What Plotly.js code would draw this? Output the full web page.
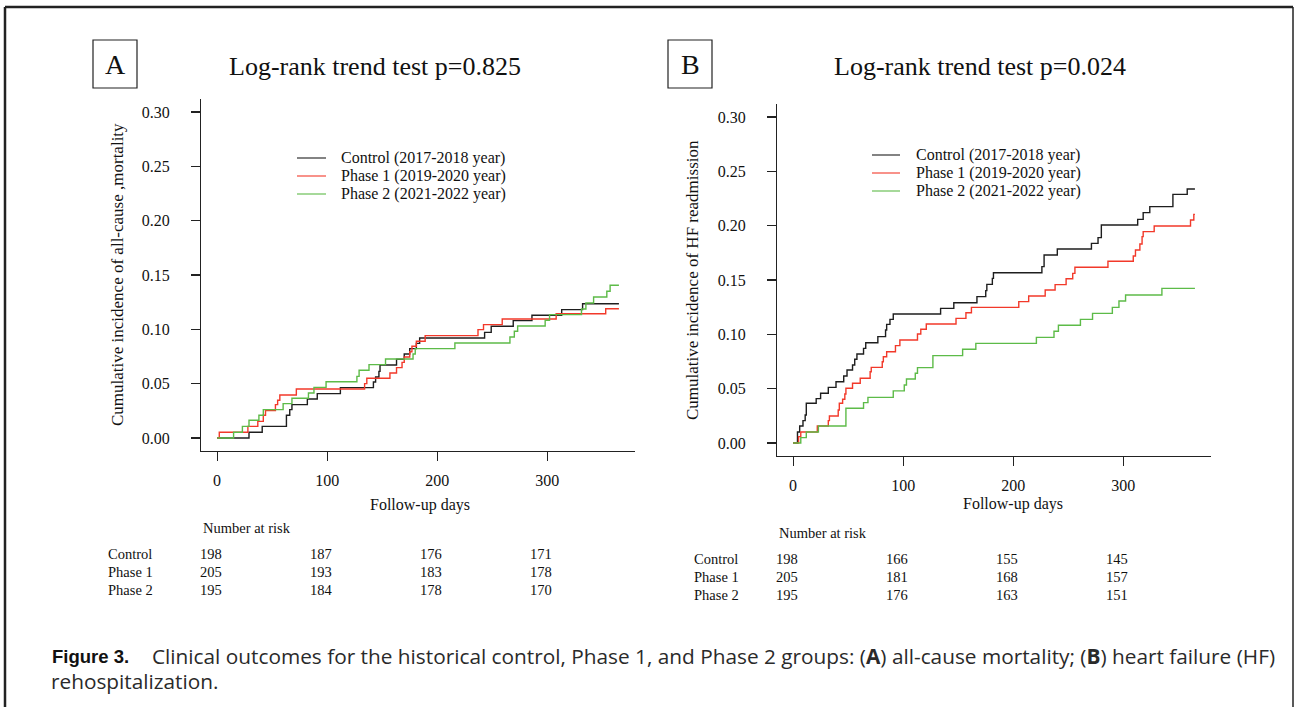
<!DOCTYPE html>
<html>
<head>
<meta charset="utf-8">
<script src="https://cdn.plot.ly/plotly-3.0.1.min.js"></script>
<style>html,body{margin:0;padding:0;background:#fff;}#chart{width:1297px;height:707px;}</style>
</head>
<body>
<div id="chart"></div>
<script>
// ---------- DATA ----------
const seriesNames = ["Control (2017-2018 year)", "Phase 1 (2019-2020 year)", "Phase 2 (2021-2022 year)"];
const groupLabels = ["Control", "Phase 1", "Phase 2"];
const xTickVals = [0, 100, 200, 300];
const yTickVals = [0, 0.05, 0.10, 0.15, 0.20, 0.25, 0.30];

// Panel A: all-cause mortality
const aControlDays = [0,29,41,63,66,68,82,91,112,142,144,147,148,163,170,175,181,184,243,249,269,286,313,332,365];
const aControlInc  = [0,0.0052,0.0107,0.0209,0.0261,0.0307,0.0359,0.0408,0.0463,0.0515,0.0561,0.0613,0.0672,0.0724,0.0773,0.0822,0.0871,0.0920,0.0972,0.1028,0.1080,0.1129,0.1181,0.1236,0.1236];
const aPhase1Days  = [0,2,28,37,42,44,53,55,57,72,134,136,157,163,168,170,175,177,181,189,237,242,259,308,353,365];
const aPhase1Inc   = [0,0.0052,0.0107,0.0153,0.0209,0.0252,0.0307,0.0347,0.0396,0.0451,0.0500,0.0549,0.0598,0.0647,0.0696,0.0745,0.0794,0.0844,0.0890,0.0942,0.0997,0.1043,0.1095,0.1144,0.1190,0.1190];
const aPhase2Days  = [0,15,23,29,38,42,60,68,83,88,99,127,129,138,153,178,180,216,266,270,273,298,302,331,335,342,354,357,365];
const aPhase2Inc   = [0,0.0052,0.0107,0.0163,0.0209,0.0261,0.0316,0.0365,0.0414,0.0466,0.0518,0.0567,0.0623,0.0675,0.0727,0.0773,0.0822,0.0874,0.0929,0.0982,0.1031,0.1083,0.1135,0.1187,0.1242,0.1298,0.1350,0.1405,0.1405];
const aTitle = "Log-rank trend test p=0.825";
const aYTitle = "Cumulative incidence of all-cause ,mortality";
const aRisk = [[198,187,176,171],[205,193,183,178],[195,184,178,170]];

// Panel B: HF readmission
const bControlDays = [0,4,6,9,11,12,21,25,32,39,46,49,54,56,58,64,66,77,84,85,88,91,134,146,167,175,176,181,182,226,228,240,271,277,280,313,318,324,345,358,365];
const bControlInc  = [0,0.0101,0.0156,0.0206,0.0258,0.0365,0.0408,0.0457,0.0512,0.0564,0.0617,0.0672,0.0718,0.0770,0.0819,0.0871,0.0923,0.0979,0.1040,0.1092,0.1138,0.1187,0.1239,0.1291,0.1347,0.1402,0.1460,0.1515,0.1567,0.1623,0.1730,0.1785,0.1837,0.1890,0.2006,0.2058,0.2120,0.2175,0.2288,0.2337,0.2337];
const bPhase1Days  = [0,5,7,22,32,33,41,42,45,47,48,54,61,70,71,81,82,85,93,97,113,116,121,148,157,162,205,214,229,238,248,254,256,286,309,311,315,317,318,328,361,364,365];
const bPhase1Inc   = [0,0.0058,0.0101,0.0156,0.0206,0.0248,0.0304,0.0365,0.0402,0.0451,0.0503,0.0549,0.0595,0.0656,0.0696,0.0748,0.0794,0.0840,0.0896,0.0948,0.1003,0.1046,0.1095,0.1147,0.1199,0.1248,0.1301,0.1353,0.1408,0.1457,0.1512,0.1561,0.1617,0.1672,0.1721,0.1776,0.1831,0.1899,0.1945,0.1997,0.2052,0.2104,0.2104];
const bPhase2Days  = [0,7,12,23,48,64,68,91,101,103,111,113,127,154,166,221,237,241,261,272,290,296,302,335,365];
const bPhase2Inc   = [0,0.0049,0.0101,0.0156,0.0319,0.0371,0.0420,0.0479,0.0534,0.0589,0.0641,0.0693,0.0804,0.0862,0.0917,0.0972,0.1028,0.1083,0.1138,0.1193,0.1248,0.1307,0.1362,0.1423,0.1423];
const bTitle = "Log-rank trend test p=0.024";
const bYTitle = "Cumulative incidence of HF readmission";
const bRisk = [[198,166,155,145],[205,181,168,157],[195,176,163,151]];

const xTitle = "Follow-up days";
const riskHeader = "Number at risk";
const captionBold = "Figure 3.";
const captionLine1 = "Clinical outcomes for the historical control, Phase 1, and Phase 2 groups: (<b>A</b>) all-cause mortality; (<b>B</b>) heart failure (HF)";
const captionLine2 = "rehospitalization.";

// ---------- STYLE / LAYOUT ----------
const W = 1297, H = 707;
const px = x => x / W;
const py = y => 1 - y / H;
const colors = ["#1e1e1e", "#f2392a", "#5dbb48"];
const SERIF = "Liberation Serif, Times New Roman, serif";
const SANS = "Liberation Sans, Arial, sans-serif";
const CAPFONT = "Open Sans, Liberation Sans, sans-serif";
const ink = "#111";

function stepTrace(name, xs, ys, color, xa, ya) {
  return {type: "scatter", mode: "lines", name: name, x: xs, y: ys,
    line: {shape: "hv", color: color, width: 1.4}, xaxis: xa, yaxis: ya,
    showlegend: false, hoverinfo: "skip"};
}

const traces = [
  stepTrace(seriesNames[0], aControlDays, aControlInc, colors[0], "x", "y"),
  stepTrace(seriesNames[1], aPhase1Days, aPhase1Inc, colors[1], "x", "y"),
  stepTrace(seriesNames[2], aPhase2Days, aPhase2Inc, colors[2], "x", "y"),
  stepTrace(seriesNames[0], bControlDays, bControlInc, colors[0], "x2", "y2"),
  stepTrace(seriesNames[1], bPhase1Days, bPhase1Inc, colors[1], "x2", "y2"),
  stepTrace(seriesNames[2], bPhase2Days, bPhase2Inc, colors[2], "x2", "y2")
];

function xAxis(dom) {
  return {domain: dom, range: [-14.6, 379.6], tickvals: xTickVals, ticks: "outside", ticklen: 9,
    tickwidth: 1.1, tickcolor: "#222", showline: true, linecolor: "#222", linewidth: 1.1,
    showgrid: false, zeroline: false, ticklabelstandoff: 6,
    tickfont: {family: SERIF, size: 16, color: ink}, fixedrange: true};
}
function yAxis(dom, anchor) {
  return {domain: dom, range: [-0.012, 0.312], tickvals: yTickVals, tickformat: ".2f",
    ticks: "outside", ticklen: 9, tickwidth: 1.1, tickcolor: "#222", showline: true,
    linecolor: "#222", linewidth: 1.1, showgrid: false, zeroline: false, ticklabelstandoff: 18,
    tickfont: {family: SERIF, size: 16, color: ink}, anchor: anchor, fixedrange: true};
}

const panels = [
  {xa: "x", L: 201, R: 635, T: 99, B: 451, box: [93, 137], title: aTitle, titleX: 375, yTitle: aYTitle, yTitleX: 117,
   legLine: [297, 326], legText: 339, legRows: [158, 176, 194], risk: aRisk, riskLabelX: 106, riskY: [528, 554, 572, 590],
   xTitleX: 420, xTitleY: 505},
  {xa: "x2", L: 777, R: 1211, T: 104, B: 456, box: [668, 712], title: bTitle, titleX: 980, yTitle: bYTitle, yTitleX: 692,
   legLine: [872, 900], legText: 914, legRows: [155, 173, 191], risk: bRisk, riskLabelX: 692, riskY: [533, 559, 577, 595],
   xTitleX: 1013, xTitleY: 504}
];

const annotations = [];
const shapes = [];

panels.forEach((p, i) => {
  const letter = i === 0 ? "A" : "B";
  shapes.push({type: "rect", xref: "paper", yref: "paper", x0: px(p.box[0]), x1: px(p.box[1]), y0: py(88), y1: py(40),
    line: {color: "#222", width: 1.2}});
  annotations.push({xref: "paper", yref: "paper", x: px((p.box[0] + p.box[1]) / 2), y: py(64), text: letter,
    showarrow: false, xanchor: "center", yanchor: "middle", font: {family: SERIF, size: 28, color: ink}});
  annotations.push({xref: "paper", yref: "paper", x: px(p.titleX), y: py(66), text: p.title,
    showarrow: false, xanchor: "center", yanchor: "middle", font: {family: SERIF, size: 26, color: ink}});
  annotations.push({xref: "paper", yref: "paper", x: px(p.yTitleX), y: py((p.T + p.B) / 2), text: p.yTitle, textangle: -90,
    showarrow: false, xanchor: "center", yanchor: "middle", font: {family: SERIF, size: 17, color: ink}});
  annotations.push({xref: "paper", yref: "paper", x: px(p.xTitleX), y: py(p.xTitleY), text: xTitle,
    showarrow: false, xanchor: "center", yanchor: "middle", font: {family: SERIF, size: 16, color: ink}});
  // legend
  seriesNames.forEach((nm, k) => {
    shapes.push({type: "line", xref: "paper", yref: "paper", x0: px(p.legLine[0]), x1: px(p.legLine[1]),
      y0: py(p.legRows[k]), y1: py(p.legRows[k]), line: {color: colors[k], width: 1.1}});
    annotations.push({xref: "paper", yref: "paper", x: px(p.legText), y: py(p.legRows[k]), text: nm,
      showarrow: false, xanchor: "left", yanchor: "middle", font: {family: SERIF, size: 16, color: ink}});
  });
  // number at risk
  annotations.push({xref: "paper", yref: "paper", x: px(p.L), y: py(p.riskY[0]), text: riskHeader,
    showarrow: false, xanchor: "left", yanchor: "middle", font: {family: SERIF, size: 14.5, color: ink}});
  groupLabels.forEach((g, k) => {
    annotations.push({xref: "paper", yref: "paper", x: px(p.riskLabelX), y: py(p.riskY[k + 1]), text: g,
      showarrow: false, xanchor: "left", yanchor: "middle", font: {family: SERIF, size: 14.5, color: ink}});
    p.risk[k].forEach((n, j) => {
      annotations.push({xref: p.xa, yref: "paper", x: xTickVals[j], xshift: -6, y: py(p.riskY[k + 1]), text: String(n),
        showarrow: false, xanchor: "center", yanchor: "middle", font: {family: SERIF, size: 14.5, color: ink}});
    });
  });
});

// caption
annotations.push({xref: "paper", yref: "paper", x: px(50), y: py(656), text: "<b>" + captionBold + "</b>",
  showarrow: false, xanchor: "left", yanchor: "middle", font: {family: SANS, size: 18.5, color: "#111"}});
annotations.push({xref: "paper", yref: "paper", x: px(150), y: py(656), text: captionLine1,
  showarrow: false, xanchor: "left", yanchor: "middle", font: {family: CAPFONT, size: 20.8, color: "#2a2a2a"}});
annotations.push({xref: "paper", yref: "paper", x: px(49), y: py(681), text: captionLine2,
  showarrow: false, xanchor: "left", yanchor: "middle", font: {family: CAPFONT, size: 20.8, color: "#2a2a2a"}});

// outer frame
shapes.push({type: "line", xref: "paper", yref: "paper", x0: px(5), x1: px(1293), y0: py(7), y1: py(7), line: {color: "#222", width: 2.5}});
shapes.push({type: "line", xref: "paper", yref: "paper", x0: px(5), x1: px(5), y0: py(7), y1: 0, line: {color: "#222", width: 2.5}});
shapes.push({type: "line", xref: "paper", yref: "paper", x0: px(1293), x1: px(1293), y0: py(7), y1: 0, line: {color: "#222", width: 1.5}});

const P = panels;
const layout = {
  width: W, height: H, margin: {l: 0, r: 0, t: 0, b: 0},
  paper_bgcolor: "#fff", plot_bgcolor: "#fff", showlegend: false,
  xaxis: Object.assign(xAxis([px(P[0].L), px(P[0].R)]), {anchor: "y"}),
  yaxis: yAxis([py(P[0].B), py(P[0].T)], "x"),
  xaxis2: Object.assign(xAxis([px(P[1].L), px(P[1].R)]), {anchor: "y2"}),
  yaxis2: yAxis([py(P[1].B), py(P[1].T)], "x2"),
  annotations: annotations, shapes: shapes
};

Plotly.newPlot("chart", traces, layout, {staticPlot: true, displayModeBar: false});
</script>
</body>
</html>
